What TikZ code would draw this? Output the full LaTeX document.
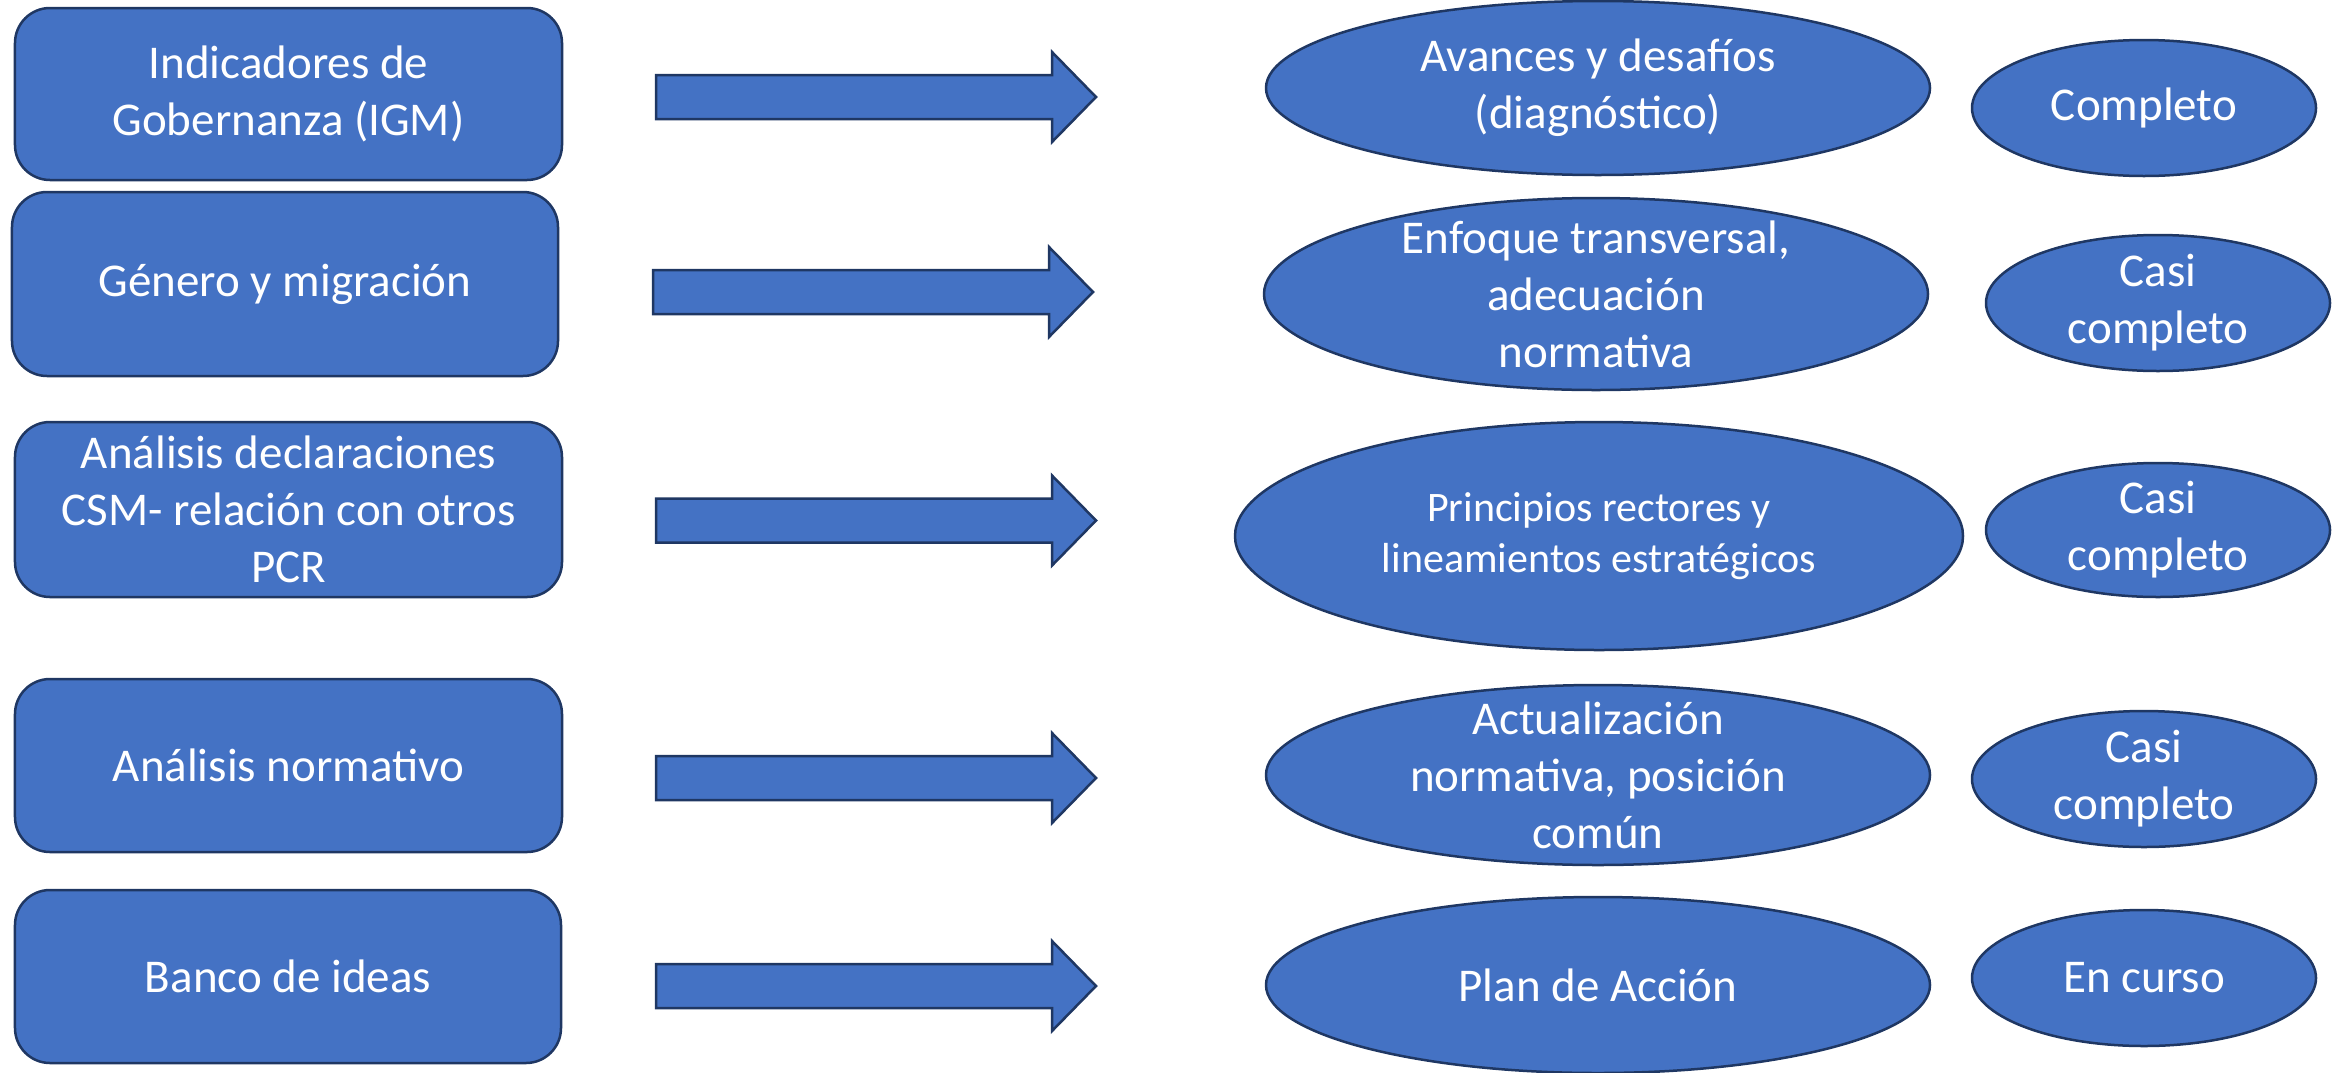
\documentclass[tikz,border=0pt]{standalone}
\usepackage{fontspec}
\setmainfont{Carlito}
\usetikzlibrary{shapes.geometric}
\definecolor{fillblue}{HTML}{4472C4}
\definecolor{edgeblue}{HTML}{1F3763}
\begin{document}
\begin{tikzpicture}[x=1bp,y=-1bp,
  shp/.style={fill=fillblue, draw=edgeblue, line width=2.5bp},
  boxst/.style={shp, rectangle, rounded corners=35bp, inner sep=0pt},
  ell/.style={shp, ellipse, inner sep=0pt},
  txt/.style={text=white, align=center, inner sep=0pt, font=\fontsize{47bp}{57bp}\selectfont},
  smalltxt/.style={txt, font=\fontsize{42bp}{51bp}\selectfont},
  blockarrow/.pic={\draw[shp, line join=miter] (0,-22) -- (396,-22) -- (396,-45) -- (440,0) -- (396,45) -- (396,22) -- (0,22) -- cycle;}
]
\useasboundingbox (0,0) rectangle (2336,1072);

% left boxes
\node[boxst, minimum width=547bp, minimum height=172bp] (b1) at (288.5,94) {};
\node[txt] (t1) at (b1) {Indicadores de\\Gobernanza (IGM)};
\node[boxst, minimum width=546bp, minimum height=184bp] (b2) at (285,284) {};
\node[txt] (t2) at (b2) {Género y migración};
\node[boxst, minimum width=547bp, minimum height=175bp] (b3) at (288.5,509.5) {};
\node[txt] (t3) at (b3) {Análisis declaraciones\\CSM- relación con otros\\PCR};
\node[boxst, minimum width=547bp, minimum height=173bp] (b4) at (288.5,765.5) {};
\node[txt] (t4) at (b4) {Análisis normativo};
\node[boxst, minimum width=546bp, minimum height=173bp] (b5) at (288,976.5) {};
\node[txt] (t5) at (b5) {Banco de ideas};

% block arrows
\pic (a1) at (656,97) {blockarrow};
\pic (a2) at (653,292) {blockarrow};
\pic (a3) at (656,520.5) {blockarrow};
\pic (a4) at (656,778) {blockarrow};
\pic (a5) at (656,986) {blockarrow};

% middle ellipses
\node[ell, minimum width=664bp, minimum height=174bp] (e1) at (1598,88) {};
\node[txt] (et1) at (e1) {Avances y desafíos\\(diagnóstico)};
\node[ell, minimum width=664bp, minimum height=192bp] (e2) at (1596,294) {};
\node[txt] (et2) at (e2) {Enfoque transversal,\\adecuación\\normativa};
\node[ell, minimum width=728bp, minimum height=228bp] (e3) at (1599,536) {};
\node[smalltxt] (et3) at (e3) {Principios rectores y\\lineamientos estratégicos};
\node[ell, minimum width=664bp, minimum height=180bp] (e4) at (1598,775) {};
\node[txt] (et4) at (e4) {Actualización\\normativa, posición\\común};
\node[ell, minimum width=664bp, minimum height=176bp] (e5) at (1598,985) {};
\node[txt] (et5) at (e5) {Plan de Acción};

% right ellipses
\node[ell, minimum width=344bp, minimum height=136bp] (r1) at (2144,108) {};
\node[txt] (rt1) at (r1) {Completo};
\node[ell, minimum width=344bp, minimum height=136bp] (r2) at (2158,303) {};
\node[txt] (rt2) at (r2) {Casi\\completo};
\node[ell, minimum width=344bp, minimum height=134bp] (r3) at (2158,530) {};
\node[txt] (rt3) at (r3) {Casi\\completo};
\node[ell, minimum width=344bp, minimum height=136bp] (r4) at (2144,779) {};
\node[txt] (rt4) at (r4) {Casi\\completo};
\node[ell, minimum width=344bp, minimum height=136bp] (r5) at (2144,978) {};
\node[txt] (rt5) at (r5) {En curso};
\end{tikzpicture}
\end{document}
